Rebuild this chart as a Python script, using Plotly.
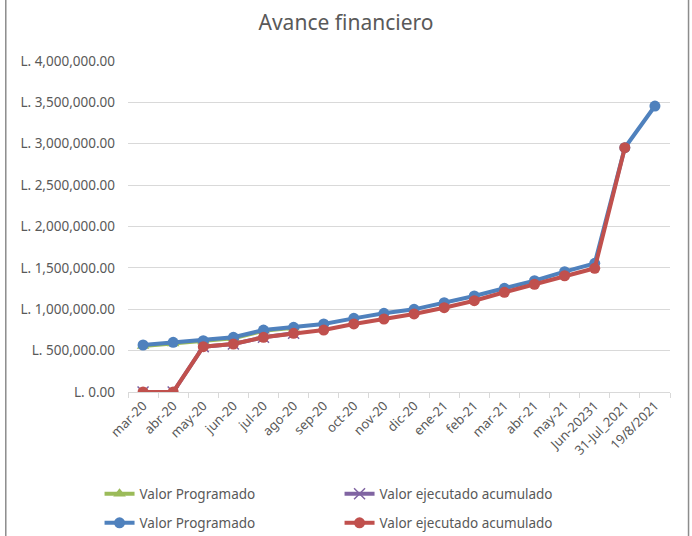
import plotly.graph_objects as go

categories = ["mar-20", "abr-20", "may-20", "jun-20", "jul-20", "ago-20", "sep-20", "oct-20",
              "nov-20", "dic-20", "ene-21", "feb-21", "mar-21", "abr-21", "may-21",
              "Jun-20231", "31-Jul_2021", "19/8/2021"]

prog_old = [555000, 585000, 610000, 650000, 740000, 775000]
ejec_old = [0, 0, 548000, 580000, 661000, 709000]

prog = [568000, 600000, 620000, 661000, 749000, 781000, 822000, 890000, 951000, 999000,
        1079000, 1160000, 1253000, 1345000, 1454000, 1555000, 2952000, 3456000]
ejec = [0, 0, 548000, 580000, 661000, 709000, 749000, 822000, 882000, 943000,
        1019000, 1103000, 1205000, 1302000, 1405000, 1495000, 2952000]

yticks = [0, 500000, 1000000, 1500000, 2000000, 2500000, 3000000, 3500000, 4000000]
ytext = ["L. 0.00", "L. 500,000.00", "L. 1,000,000.00", "L. 1,500,000.00", "L. 2,000,000.00",
         "L. 2,500,000.00", "L. 3,000,000.00", "L. 3,500,000.00", "L. 4,000,000.00"]

FONT = "Noto Sans"
GRAY = "#595959"

fig = go.Figure()
fig.add_trace(go.Scatter(x=categories[:len(prog_old)], y=prog_old, name="Valor Programado",
                         mode="lines+markers", line=dict(color="#9BBB59", width=4),
                         marker=dict(symbol="triangle-up", size=11, color="#9BBB59"),
                         legend="legend"))
fig.add_trace(go.Scatter(x=categories[:len(ejec_old)], y=ejec_old, name="Valor ejecutado acumulado",
                         mode="lines+markers", line=dict(color="#8064A2", width=4),
                         marker=dict(symbol="x-thin", size=11, color="#8064A2",
                                     line=dict(color="#8064A2", width=1.5)),
                         legend="legend"))
fig.add_trace(go.Scatter(x=categories, y=prog, name="Valor Programado",
                         mode="lines+markers", line=dict(color="#4F81BD", width=4),
                         marker=dict(symbol="circle", size=11, color="#4F81BD"),
                         legend="legend2"))
fig.add_trace(go.Scatter(x=categories[:len(ejec)], y=ejec, name="Valor ejecutado acumulado",
                         mode="lines+markers", line=dict(color="#C0504D", width=4),
                         marker=dict(symbol="circle", size=11, color="#C0504D"),
                         legend="legend2"))

leg_common = dict(orientation="h", x=-0.0525, xanchor="left", yanchor="middle",
                  entrywidth=195, entrywidthmode="pixels",
                  font=dict(size=13.5, color=GRAY, family=FONT), bgcolor="rgba(0,0,0,0)")

fig.update_layout(
    width=692, height=536,
    margin=dict(l=128, r=22, t=61, b=144, autoexpand=False),
    paper_bgcolor="white", plot_bgcolor="white",
    font=dict(family=FONT, size=13, color=GRAY),
    title=dict(text="Avance financiero", x=0.5, xanchor="center", y=0.958, yanchor="middle",
               font=dict(family=FONT, size=21, color=GRAY)),
    xaxis=dict(type="category", categoryorder="array", categoryarray=categories,
               range=[-0.5, len(categories) - 0.5], automargin=False,
               tickangle=-45, tickson="boundaries", ticks="outside", ticklen=5,
               tickcolor="#d9d9d9", showline=True, linecolor="#d9d9d9", linewidth=1,
               showgrid=False, tickfont=dict(size=13, color=GRAY)),
    yaxis=dict(range=[0, 4000000], tickvals=yticks, ticktext=ytext, automargin=False,
               showgrid=True, gridcolor="#d9d9d9", gridwidth=1, zeroline=False,
               showline=False, ticks="", ticklabelstandoff=12,
               tickfont=dict(size=13.5, color=GRAY)),
    showlegend=True,
    legend=dict(leg_common, y=(392 - 494) / 331),
    legend2=dict(leg_common, y=(392 - 523) / 331),
    shapes=[
        dict(type="line", xref="paper", yref="paper", x0=-0.2255, x1=-0.2255, y0=-1, y1=2,
             line=dict(color="#8c8c8c", width=1.5)),
        dict(type="line", xref="paper", yref="paper", x0=1.0342, x1=1.0342, y0=-1, y1=2,
             line=dict(color="#8c8c8c", width=1.5)),
    ],
)

fig.write_html("out.html", config={"displayModeBar": False},
               post_script="document.body.style.margin='0';document.body.style.padding='0';")
